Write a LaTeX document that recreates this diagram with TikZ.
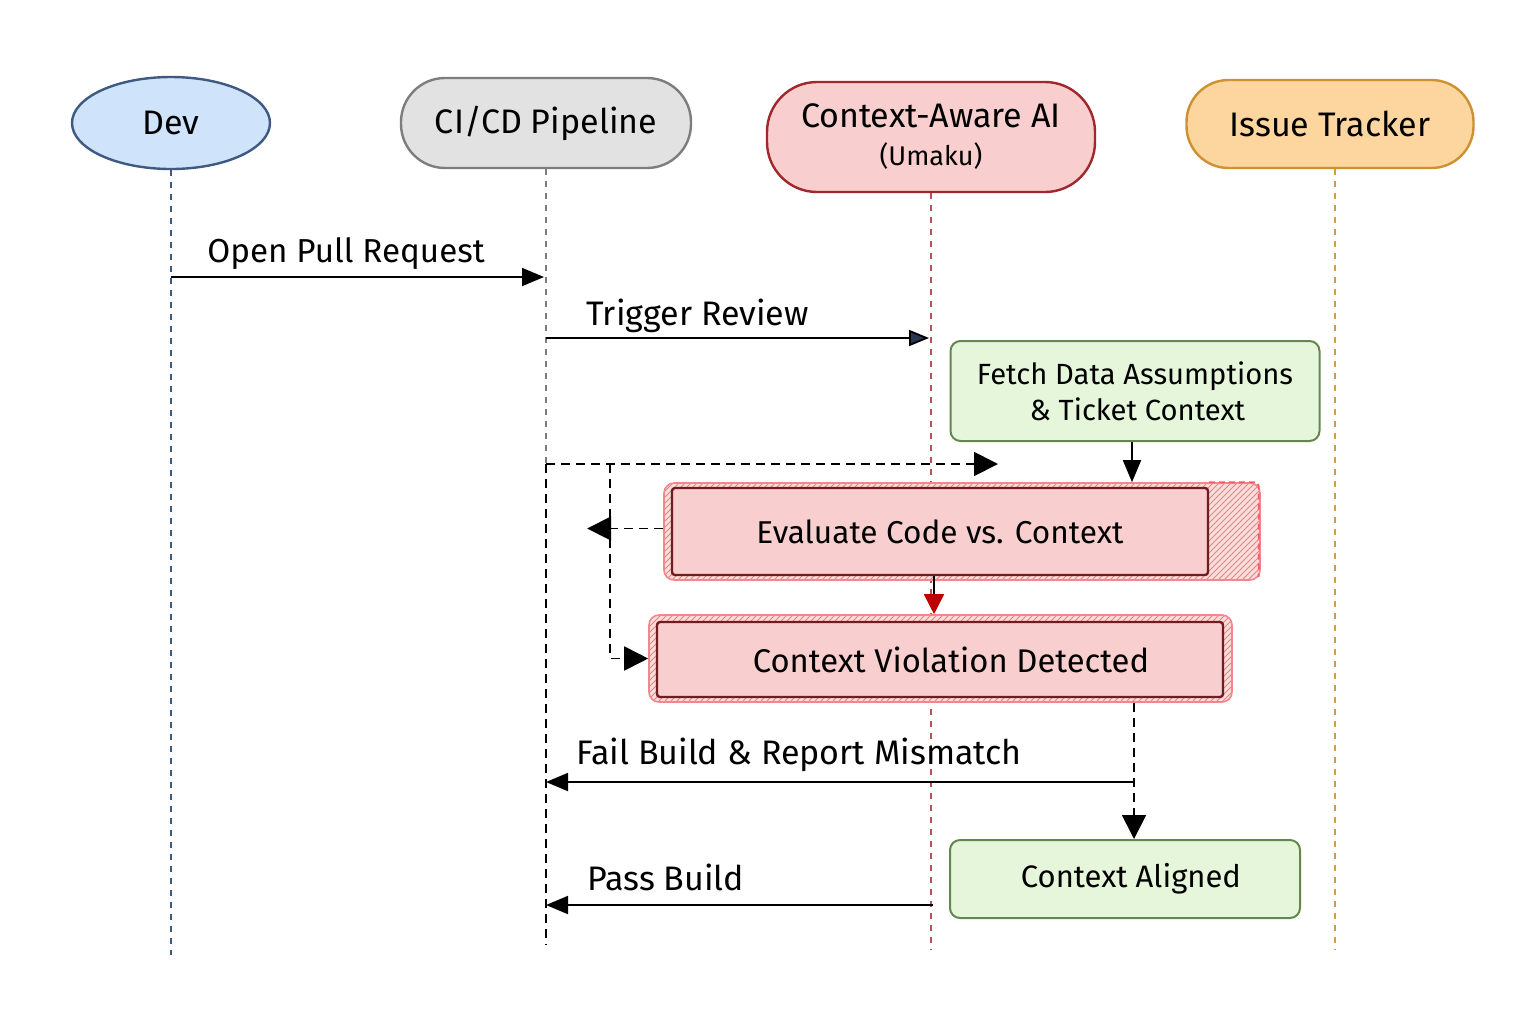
\documentclass[tikz,border=0pt]{standalone}
\usepackage{fontspec}
\setmainfont{Fira Sans}
\usetikzlibrary{arrows.meta,positioning,patterns,shapes.geometric,calc}
\definecolor{devblue}    {RGB}{207,228,250}
\definecolor{devline}    {RGB}{62,90,130}
\definecolor{pipegray}   {RGB}{226,226,226}
\definecolor{pipeline}   {RGB}{125,125,125}
\definecolor{aipink}     {RGB}{248,206,206}
\definecolor{ailine}     {RGB}{160,40,45}
\definecolor{issueorange}{RGB}{252,214,158}
\definecolor{issueline}  {RGB}{205,145,50}
\definecolor{stepgreen}  {RGB}{230,246,218}
\definecolor{stepline}   {RGB}{100,135,80}
\definecolor{halored}    {RGB}{240,95,100}
\definecolor{tipslate}   {RGB}{40,55,80}

\begin{document}
\begin{tikzpicture}[x=0.5pt,y=-0.5pt,
  actor/.style={draw=#1, line width=1.2pt, align=center,
                font=\fontsize{17pt}{18pt}\selectfont},
  life/.style={draw=#1, dashed, dash pattern=on 3pt off 3pt, line width=0.7pt},
  stepbox/.style={rectangle, rounded corners=5pt, draw=stepline, fill=stepgreen,
                  line width=1pt, align=center},
  alertbox/.style={rectangle, rounded corners=1.5pt, draw=ailine!70!black, fill=aipink,
                   line width=1.2pt},
  halo/.style={rectangle, rounded corners=5pt, draw=halored!75, line width=0.8pt,
               preaction={fill=aipink!70}, pattern=north east lines, pattern color=halored!80},
  lbl/.style={anchor=base west, inner sep=0pt, font=\fontsize{17pt}{19pt}\selectfont},
  msg/.style={-{Triangle[length=11pt,width=9pt]}, line width=0.9pt},
  dashmsg/.style={-{Triangle[length=12pt,width=12pt]}, line width=0.9pt,
                  dash pattern=on 4.5pt off 3pt}
]
  \useasboundingbox (0,0) rectangle (1536,1024);

  % actors
  \node[actor=devline, ellipse, fill=devblue, minimum width=99pt, minimum height=46pt]
    (dev) at (171,123) {Dev};
  \node[actor=pipeline, rectangle, rounded corners=22pt, fill=pipegray,
        minimum width=145pt, minimum height=45pt] (pipe) at (546,123) {CI/CD Pipeline};
  \node[actor=ailine, rectangle, rounded corners=25pt, fill=aipink,
        minimum width=164pt, minimum height=55pt] (ai) at (931,137)
    {Context-Aware AI\\[1pt]{\fontsize{13.5pt}{14pt}\selectfont (Umaku)}};
  \node[actor=issueline, rectangle, rounded corners=21pt, fill=issueorange,
        minimum width=143.5pt, minimum height=44pt] (issue) at (1330,124) {Issue Tracker};

  % lifelines
  \coordinate (devEnd)   at (171,955);
  \coordinate (pipeMid)  at (546,464);
  \coordinate (pipeEnd)  at (546,945);
  \coordinate (aiEnd)    at (931,950);
  \coordinate (issueEnd) at (1335,950);
  \draw[life=devline]          (dev.south)  -- (devEnd);
  \draw[life=pipeline]         (pipe.south) -- (pipeMid);
  \draw[life=ailine!80]        (ai.south)   -- (aiEnd);
  \draw[life=issueline!90]     ([xshift=2.5pt]issue.south) -- ([xshift=2.5pt]issue.south |- issueEnd);

  % review steps
  \node[stepbox, minimum width=184.5pt, minimum height=50pt,
        font=\fontsize{14.6pt}{18pt}\selectfont] (fetch) at (1135,391)
    {Fetch Data Assumptions\\ \,\& Ticket Context};

  \node[halo, minimum width=298pt, minimum height=48.5pt] (evalHalo) at (962,531.5) {};
  \draw[halored, line width=0.9pt, dashed, dash pattern=on 3pt off 2pt]
    ([xshift=-26pt]evalHalo.north east) -- ([xshift=-2pt]evalHalo.north east)
    -- ([xshift=-1pt,yshift=-2pt]evalHalo.north east) -- ([xshift=-1pt,yshift=2pt]evalHalo.south east);
  \node[alertbox, minimum width=268pt, minimum height=43.5pt,
        font=\fontsize{15.8pt}{18pt}\selectfont] (eval) at (940,531.5)
    {Evaluate Code vs. Context};

  \node[halo, minimum width=291.5pt, minimum height=43.5pt] (violHalo) at (940.5,658.5) {};
  \node[alertbox, minimum width=283pt, minimum height=37.5pt,
        font=\fontsize{16.4pt}{18pt}\selectfont] (viol) at (940,659.5)
    {\hspace*{11pt}Context Violation Detected};

  \node[stepbox, minimum width=175pt, minimum height=39pt,
        font=\fontsize{15.5pt}{18pt}\selectfont] (aligned) at (1125,879)
    {\hspace*{6pt}Context Aligned};

  % messages
  \draw[msg] (dev.south |- 0,277) -- ([xshift=-1pt]pipe.south |- 0,277);
  \node[lbl, font=\fontsize{16.6pt}{19pt}\selectfont] (prLbl) at (207,262) {Open Pull Request};

  \draw[-{Triangle[length=10pt,width=8pt,fill=tipslate]}, line width=0.9pt]
    (pipe.south |- 0,338) -- ([xshift=-1pt]ai.south |- 0,338);
  \node[lbl] (trigLbl) at (586,325) {Trigger Review};

  \draw[msg] ([xshift=-1.5pt]fetch.south) -- ([xshift=-1.5pt]fetch.south |- evalHalo.north);
  \draw[-{Triangle[length=10pt,width=10pt,fill=red!75!black,color=red!75!black]}, line width=0.9pt]
    ([xshift=-3pt]eval.south) -- ([xshift=-3pt]eval.south |- violHalo.north);

  % dashed control flow
  \draw[line width=0.9pt, dash pattern=on 4.5pt off 3pt] (pipeMid) -- (pipeEnd);
  \coordinate (loopTip) at (998,464);
  \draw[dashmsg] (pipeMid) -- (loopTip);
  \draw[dashmsg] (610,464) |- (violHalo.west);
  \draw[dashmsg] ([yshift=1.5pt]evalHalo.west) -- ++(-76,0);

  \coordinate (failCorner) at (1134,782);
  \draw[dashmsg] (failCorner |- violHalo.south) -- (failCorner |- aligned.north);
  \draw[msg] (failCorner) -- (pipe.south |- failCorner);
  \node[lbl] (failLbl) at (576,764) {Fail Build \& Report Mismatch};

  \draw[msg] ([xshift=1pt]ai.south |- 0,905) -- (pipe.south |- 0,905);
  \node[lbl] (passLbl) at (587,890) {Pass Build};
\end{tikzpicture}
\end{document}
